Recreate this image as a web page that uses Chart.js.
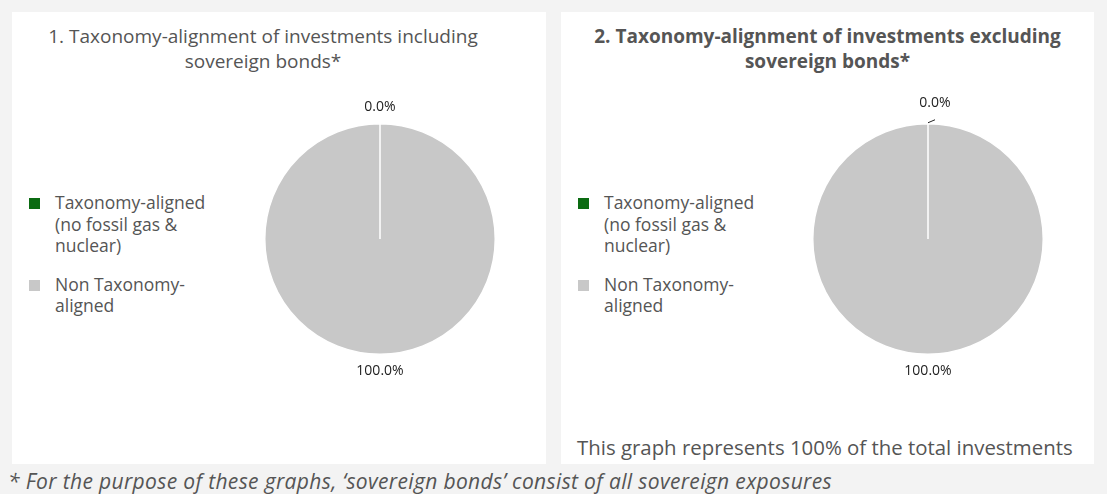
<!DOCTYPE html>
<html>
<head>
<meta charset="utf-8">
<script src="https://cdn.jsdelivr.net/npm/chart.js@4.4.1/dist/chart.umd.min.js"></script>
<style>
  body { margin: 0; width: 1107px; height: 494px; background: #f3f3f3; font-family: "Open Sans", sans-serif; color: #555; position: relative; overflow: hidden; }
  .panel { position: absolute; top: 12px; height: 452px; background: #fff; }
  #p1 { left: 12px; width: 534px; }
  #p2 { left: 561px; width: 533px; }
  .title { position: absolute; top: 12px; left: 30px; right: 30px; text-align: center; font-size: 19px; line-height: 25px; }
  #p1 .title { left: 0; right: 32px; }
  #p2 .title { font-weight: bold; }
  .chartbox { position: absolute; top: 77px; width: 300px; height: 300px; }
  #p1 .chartbox { left: 218px; }
  #p2 .chartbox { left: 217px; }
  .legend { position: absolute; top: 180px; left: 17px; width: 186px; list-style: none; margin: 0; padding: 0; font-size: 17.5px; line-height: 21.5px; }
  .legend li { position: relative; padding-left: 26px; margin-bottom: 17px; }
  .legend span { position: absolute; left: 0; top: 6px; width: 11px; height: 11px; }
  .note { position: absolute; left: 16px; top: 423px; font-size: 20.4px; line-height: 24px; white-space: nowrap; }
  .foot { position: absolute; left: 8px; top: 469px; font-size: 21px; line-height: 24px; letter-spacing: 0.35px; font-style: italic; white-space: nowrap; }
</style>
</head>
<body>
<div class="panel" id="p1">
  <div class="title">1. Taxonomy-alignment of investments including sovereign bonds*</div>
  <ul class="legend" id="legend1"></ul>
  <div class="chartbox"><canvas id="chart1"></canvas></div>
</div>
<div class="panel" id="p2">
  <div class="title">2. Taxonomy-alignment of investments excluding sovereign bonds*</div>
  <ul class="legend" id="legend2"></ul>
  <div class="chartbox"><canvas id="chart2"></canvas></div>
  <div class="note">This graph represents 100% of the total investments</div>
</div>
<div class="foot">* For the purpose of these graphs, ‘sovereign bonds’ consist of all sovereign exposures</div>

<script>
// data
var categories = ['Taxonomy-aligned (no fossil gas & nuclear)', 'Non Taxonomy-aligned'];
var inclSovereign = [0.0, 100.0];
var exclSovereign = [0.0, 100.0];
var sliceColors = ['#0b6b12', '#c8c8c8'];

// html legend built from the chart's own legend items
var htmlLegend = {
    id: 'htmlLegend',
    afterUpdate: function(chart, args, opts) {
        var ul = document.getElementById(opts.containerID);
        ul.innerHTML = '';
        chart.options.plugins.legend.labels.generateLabels(chart).forEach(function(item) {
            var li = document.createElement('li');
            var box = document.createElement('span');
            box.style.background = item.fillStyle;
            li.appendChild(box);
            li.appendChild(document.createTextNode(item.text));
            ul.appendChild(li);
        });
    }
};

// percentage labels outside the slices
var outLabels = {
    id: 'outLabels',
    afterDatasetsDraw: function(chart, args, opts) {
        var ctx = chart.ctx;
        var meta = chart.getDatasetMeta(0);
        var data = chart.data.datasets[0].data;
        ctx.save();
        ctx.font = '14px "Open Sans", sans-serif';
        ctx.fillStyle = '#222';
        ctx.textAlign = 'center';
        ctx.textBaseline = 'middle';
        meta.data.forEach(function(arc, i) {
            var p = arc.getProps(['x', 'y', 'startAngle', 'endAngle', 'outerRadius'], true);
            var mid = (p.startAngle + p.endAngle) / 2;
            var r = p.outerRadius + 17;
            var x = p.x + Math.cos(mid) * r;
            var y = p.y + Math.sin(mid) * r;
            if (opts.leader && data[i] === 0) {
                var ex = p.x + Math.cos(mid) * (p.outerRadius + 1);
                var ey = p.y + Math.sin(mid) * (p.outerRadius + 1);
                ctx.strokeStyle = '#222';
                ctx.lineWidth = 1;
                ctx.beginPath();
                ctx.moveTo(ex, ey);
                ctx.lineTo(ex + 7, ey - 3);
                ctx.stroke();
                x += 7;
                y -= 4;
            }
            ctx.fillText(data[i].toFixed(1) + '%', x, y);
        });
        ctx.restore();
    }
};

function makePie(id, legendId, values, leader) {
    return new Chart(document.getElementById(id), {
        type: 'pie',
        data: {
            labels: categories,
            datasets: [{
                data: values,
                backgroundColor: sliceColors,
                borderColor: '#fff',
                borderWidth: 1.5
            }]
        },
        options: {
            responsive: true,
            maintainAspectRatio: false,
            animation: false,
            layout: { padding: 34 },
            plugins: {
                legend: { display: false },
                tooltip: { enabled: false },
                htmlLegend: { containerID: legendId },
                outLabels: { leader: leader }
            }
        },
        plugins: [htmlLegend, outLabels]
    });
}

makePie('chart1', 'legend1', inclSovereign, false);
makePie('chart2', 'legend2', exclSovereign, true);
</script>
</body>
</html>
